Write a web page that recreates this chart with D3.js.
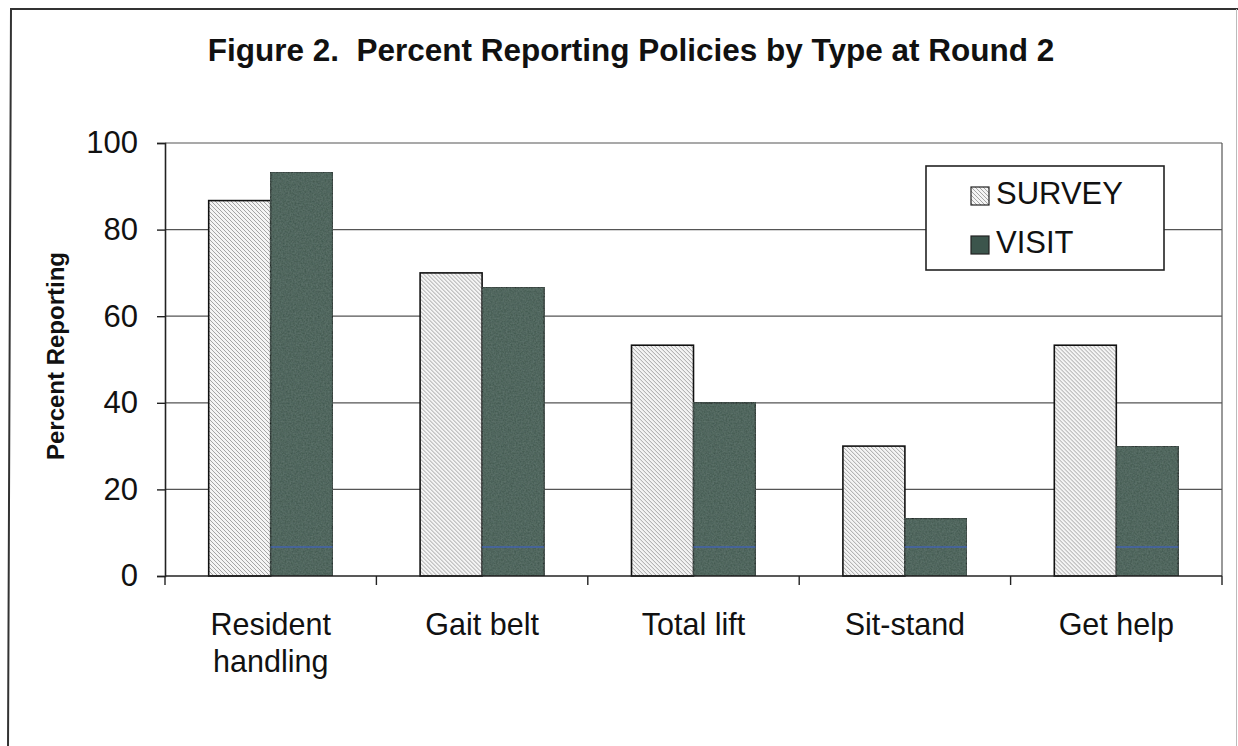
<!DOCTYPE html>
<html>
<head>
<meta charset="utf-8">
<script src="https://cdn.jsdelivr.net/npm/d3@7"></script>
<style>
  html, body { margin: 0; padding: 0; background: #fff; }
  svg { display: block; font-family: "Liberation Sans", Arial, sans-serif; }
</style>
</head>
<body>
<svg id="chart" width="1238" height="746"></svg>
<script>
// Policy types and percentages reporting each one
const categories = [["Resident", "handling"], ["Gait belt"], ["Total lift"], ["Sit-stand"], ["Get help"]];
const seriesNames = ["SURVEY", "VISIT"];
const surveyValues = [86.7, 70.0, 53.3, 30.0, 53.3];
const visitValues = [93.3, 66.7, 40.0, 13.3, 30.0];
const yTicks = [0, 20, 40, 60, 80, 100];
const baseMarkValue = 6.7; // thin blue base mark drawn inside each VISIT bar

const svg = d3.select("#chart");
const W = 1238, H = 746;
const margin = { left: 165, right: 16, top: 143, bottom: 170 };
const plotW = W - margin.left - margin.right;
const plotH = H - margin.top - margin.bottom;

const defs = svg.append("defs");
// light hatched fill for SURVEY
const hatch = defs.append("pattern")
  .attr("id", "hatch").attr("patternUnits", "userSpaceOnUse")
  .attr("width", 4).attr("height", 4);
hatch.append("rect").attr("width", 4).attr("height", 4).attr("fill", "#f4f4f4");
hatch.append("path").attr("d", "M-1,-1 L5,5 M-1,3 L1,5 M3,-1 L5,1")
  .attr("stroke", "#a4a4a4").attr("stroke-width", 1);
// mottled dark fill for VISIT
const mottle = defs.append("filter").attr("id", "mottle")
  .attr("x", 0).attr("y", 0).attr("width", 1).attr("height", 1);
mottle.append("feTurbulence").attr("type", "fractalNoise")
  .attr("baseFrequency", 0.6).attr("numOctaves", 2).attr("seed", 3).attr("result", "n");
mottle.append("feColorMatrix").attr("in", "n").attr("type", "matrix")
  .attr("values", "0 0 0 0 0.18  0 0 0 0 0.26  0 0 0 0 0.23  0 0 0 0.55 0").attr("result", "c");
mottle.append("feComposite").attr("in", "c").attr("in2", "SourceGraphic").attr("operator", "in").attr("result", "m");
mottle.append("feMerge").selectAll("feMergeNode").data(["SourceGraphic", "m"]).join("feMergeNode").attr("in", d => d);

// outer frame
svg.append("path")
  .attr("d", `M8,${H + 5} L11,9 L${W + 5},9`)
  .attr("fill", "none").attr("stroke", "#333").attr("stroke-width", 2);
svg.append("line").attr("x1", W - 1.5).attr("x2", W - 1.5).attr("y1", 9).attr("y2", H)
  .attr("stroke", "#bbb").attr("stroke-width", 1);

// title
svg.append("text")
  .attr("x", 631).attr("y", 61).attr("text-anchor", "middle")
  .attr("font-size", 31.5).attr("font-weight", "bold").attr("fill", "#111")
  .text("Figure 2.\u00A0 Percent Reporting Policies by Type at Round 2");

const g = svg.append("g").attr("transform", `translate(${margin.left},${margin.top})`);

const x0 = d3.scaleBand().domain(d3.range(categories.length)).range([0, plotW]).paddingInner(0).paddingOuter(0);
const x1 = d3.scaleBand().domain(seriesNames).range([0, x0.bandwidth()]).paddingInner(0).paddingOuter(0.705);
const y = d3.scaleLinear().domain([0, 100]).range([plotH, 0]);

// gridlines
g.append("g").selectAll("line").data(yTicks.filter(t => t > 0)).join("line")
  .attr("x1", 0).attr("x2", plotW)
  .attr("y1", d => y(d)).attr("y2", d => y(d))
  .attr("stroke", "#555").attr("stroke-width", 1.2);
// right plot border
g.append("line").attr("x1", plotW).attr("x2", plotW).attr("y1", 0).attr("y2", plotH)
  .attr("stroke", "#555").attr("stroke-width", 1.2);

// bars
const rows = categories.map((c, i) => ({ i, values: [surveyValues[i], visitValues[i]] }));
const groups = g.append("g").selectAll("g").data(rows).join("g")
  .attr("transform", d => `translate(${x0(d.i)},0)`);
groups.selectAll("rect").data(d => d.values.map((v, k) => ({ key: seriesNames[k], v }))).join("rect")
  .attr("x", d => x1(d.key))
  .attr("y", d => y(d.v))
  .attr("width", x1.bandwidth())
  .attr("height", d => y(0) - y(d.v))
  .attr("fill", d => d.key === "SURVEY" ? "url(#hatch)" : "#3c554c")
  .attr("filter", d => d.key === "VISIT" ? "url(#mottle)" : null)
  .attr("stroke", "#111").attr("stroke-width", 1.6);
groups.append("line")
  .attr("x1", x1("VISIT")).attr("x2", x1("VISIT") + x1.bandwidth())
  .attr("y1", y(baseMarkValue)).attr("y2", y(baseMarkValue))
  .attr("stroke", "#3f63c8").attr("stroke-opacity", 0.75).attr("stroke-width", 1.5);

// y axis
const yAxis = g.append("g").call(d3.axisLeft(y).tickValues(yTicks).tickSize(8).tickPadding(19));
yAxis.select(".domain").attr("stroke", "#222").attr("stroke-width", 1.6);
yAxis.selectAll(".tick line").attr("stroke", "#222").attr("stroke-width", 1.4);
yAxis.selectAll(".tick text").attr("font-size", 31).attr("fill", "#111")
  .attr("font-family", "Liberation Sans, Arial, sans-serif");

// x axis with ticks between groups
const xAxisG = g.append("g").attr("transform", `translate(0,${plotH})`);
xAxisG.append("line").attr("x1", 0).attr("x2", plotW).attr("stroke", "#222").attr("stroke-width", 1.6);
xAxisG.selectAll("line.tk").data(d3.range(categories.length + 1)).join("line").attr("class", "tk")
  .attr("x1", d => d * x0.bandwidth()).attr("x2", d => d * x0.bandwidth())
  .attr("y1", 0).attr("y2", 9).attr("stroke", "#222").attr("stroke-width", 1.4);
const xl = xAxisG.selectAll("text").data(categories).join("text")
  .attr("text-anchor", "middle").attr("font-size", 30.5).attr("fill", "#111")
  .attr("transform", (d, i) => `translate(${x0(i) + x0.bandwidth() / 2},59)`);
xl.selectAll("tspan").data(d => d).join("tspan")
  .attr("x", 0).attr("dy", (d, k) => k === 0 ? 0 : 37).text(d => d);

// y axis title
svg.append("text")
  .attr("transform", "translate(64,356) rotate(-90)")
  .attr("text-anchor", "middle").attr("font-size", 24).attr("font-weight", "bold").attr("fill", "#111")
  .text("Percent Reporting");

// legend
const lg = svg.append("g").attr("transform", "translate(926,166)");
lg.append("rect").attr("width", 238).attr("height", 104)
  .attr("fill", "#fff").attr("stroke", "#222").attr("stroke-width", 1.6);
const li = lg.selectAll("g.item").data(seriesNames).join("g").attr("class", "item")
  .attr("transform", (d, i) => `translate(45,${21 + i * 49})`);
li.append("rect").attr("width", 18).attr("height", 18)
  .attr("fill", d => d === "SURVEY" ? "url(#hatch)" : "#3c554c")
  .attr("stroke", "#222").attr("stroke-width", 1.2);
li.append("text").attr("x", 25).attr("y", 17).attr("font-size", 31).attr("fill", "#111").text(d => d);
</script>
</body>
</html>
